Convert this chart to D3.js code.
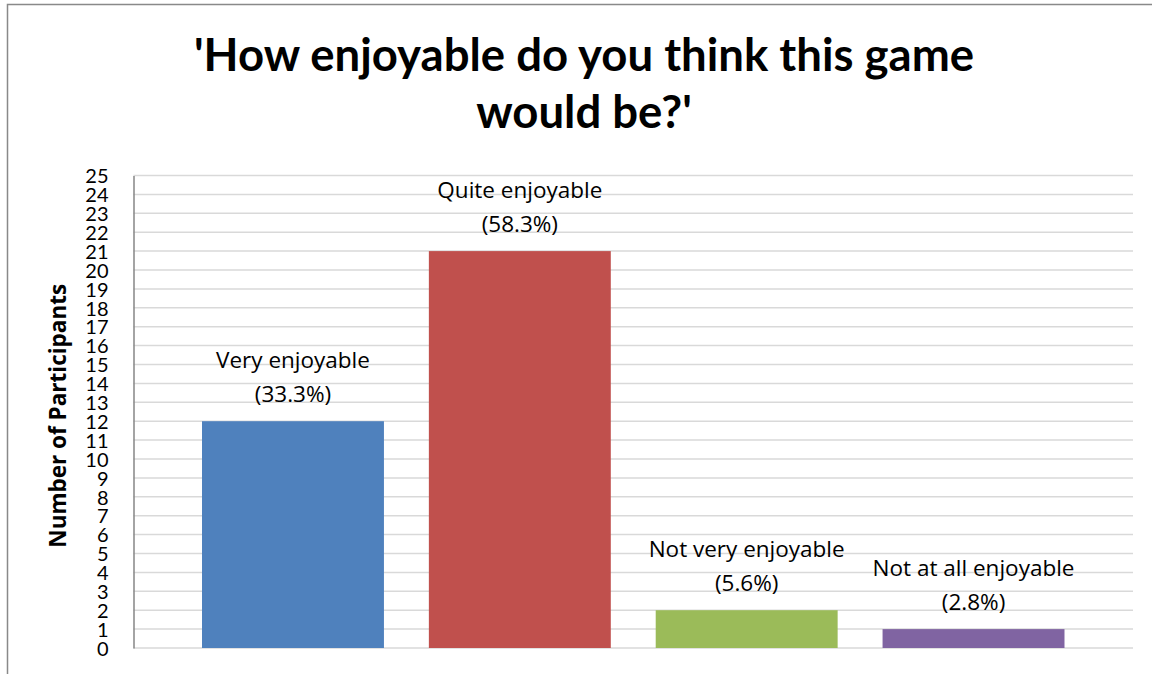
<!DOCTYPE html>
<html>
<head>
<meta charset="utf-8">
<script src="https://cdn.jsdelivr.net/npm/d3@7"></script>
<style>
  html, body { margin: 0; padding: 0; background: #fff; }
  svg { display: block; }
  text { font-family: Lato, "Open Sans", sans-serif; fill: #000; }
</style>
</head>
<body>
<svg id="chart" width="1152" height="674"></svg>
<script>
// Survey responses
const categories = ["Very enjoyable", "Quite enjoyable", "Not very enjoyable", "Not at all enjoyable"];
const participants = [12, 21, 2, 1];
const percentLabels = ["(33.3%)", "(58.3%)", "(5.6%)", "(2.8%)"];
const barColors = ["#4f81bd", "#c0504d", "#9bbb59", "#8064a2"];
const yTicks = d3.range(0, 26);
const titleLines = ["'How enjoyable do you think this game", "would be?'"];
const yAxisTitle = "Number of Participants";

const svg = d3.select("#chart");
const W = 1152, H = 674;
const plot = { left: 133.5, right: 1133, top: 175.5, bottom: 648 };

// outer chart frame
svg.append("rect")
  .attr("x", 7.5).attr("y", 4.5)
  .attr("width", W).attr("height", H)
  .attr("fill", "#fff")
  .attr("stroke", "#898989").attr("stroke-width", 1.5);

const x = d3.scaleBand()
  .domain(categories)
  .range([plot.left, plot.right])
  .paddingInner(0.198)
  .paddingOuter(0.302);

const y = d3.scaleLinear()
  .domain([0, 25])
  .range([plot.bottom, plot.top]);

// horizontal gridlines
svg.append("g")
  .selectAll("line")
  .data(yTicks)
  .join("line")
  .attr("x1", plot.left).attr("x2", plot.right)
  .attr("y1", d => y(d)).attr("y2", d => y(d))
  .attr("stroke", "#d9d9d9").attr("stroke-width", 1.5);

// y axis with numeric labels
const yAxis = d3.axisLeft(y)
  .tickValues(yTicks)
  .tickSize(0)
  .tickPadding(25)
  .tickFormat(d3.format("d"));

const gy = svg.append("g")
  .attr("transform", `translate(${plot.left},0)`)
  .call(yAxis);
gy.select(".domain").attr("stroke", "#868686").attr("stroke-width", 1.5);
gy.selectAll(".tick text")
  .attr("font-family", "Lato, 'Open Sans', sans-serif")
  .attr("font-size", 20)
  .attr("fill", "#000")
  .attr("dy", "0.36em");

// bars
svg.append("g")
  .selectAll("rect")
  .data(categories)
  .join("rect")
  .attr("x", d => x(d))
  .attr("width", x.bandwidth())
  .attr("y", (d, i) => y(participants[i]))
  .attr("height", (d, i) => y(0) - y(participants[i]))
  .attr("fill", (d, i) => barColors[i]);

// data labels above the bars
const labels = svg.append("g")
  .selectAll("text")
  .data(categories)
  .join("text")
  .attr("text-anchor", "middle")
  .style("font-family", "'Open Sans', Lato, sans-serif")
  .attr("font-size", 22.5);
labels.append("tspan")
  .attr("x", d => x(d) + x.bandwidth() / 2)
  .attr("y", (d, i) => y(participants[i]) - 53)
  .text(d => d);
labels.append("tspan")
  .attr("x", d => x(d) + x.bandwidth() / 2)
  .attr("y", (d, i) => y(participants[i]) - 19)
  .text((d, i) => percentLabels[i]);

// chart title
svg.append("g")
  .selectAll("text")
  .data(titleLines)
  .join("text")
  .attr("x", 584)
  .attr("y", (d, i) => 71 + i * 57)
  .attr("text-anchor", "middle")
  .attr("font-size", 45.5)
  .attr("font-weight", "bold")
  .text(d => d);

// y axis title
svg.append("text")
  .attr("transform", `translate(66,${(plot.top + plot.bottom) / 2 + 4}) rotate(-90)`)
  .attr("text-anchor", "middle")
  .style("font-family", "'Open Sans', Lato, sans-serif")
  .attr("font-size", 22.5)
  .attr("font-weight", "bold")
  .text(yAxisTitle);
</script>
</body>
</html>
